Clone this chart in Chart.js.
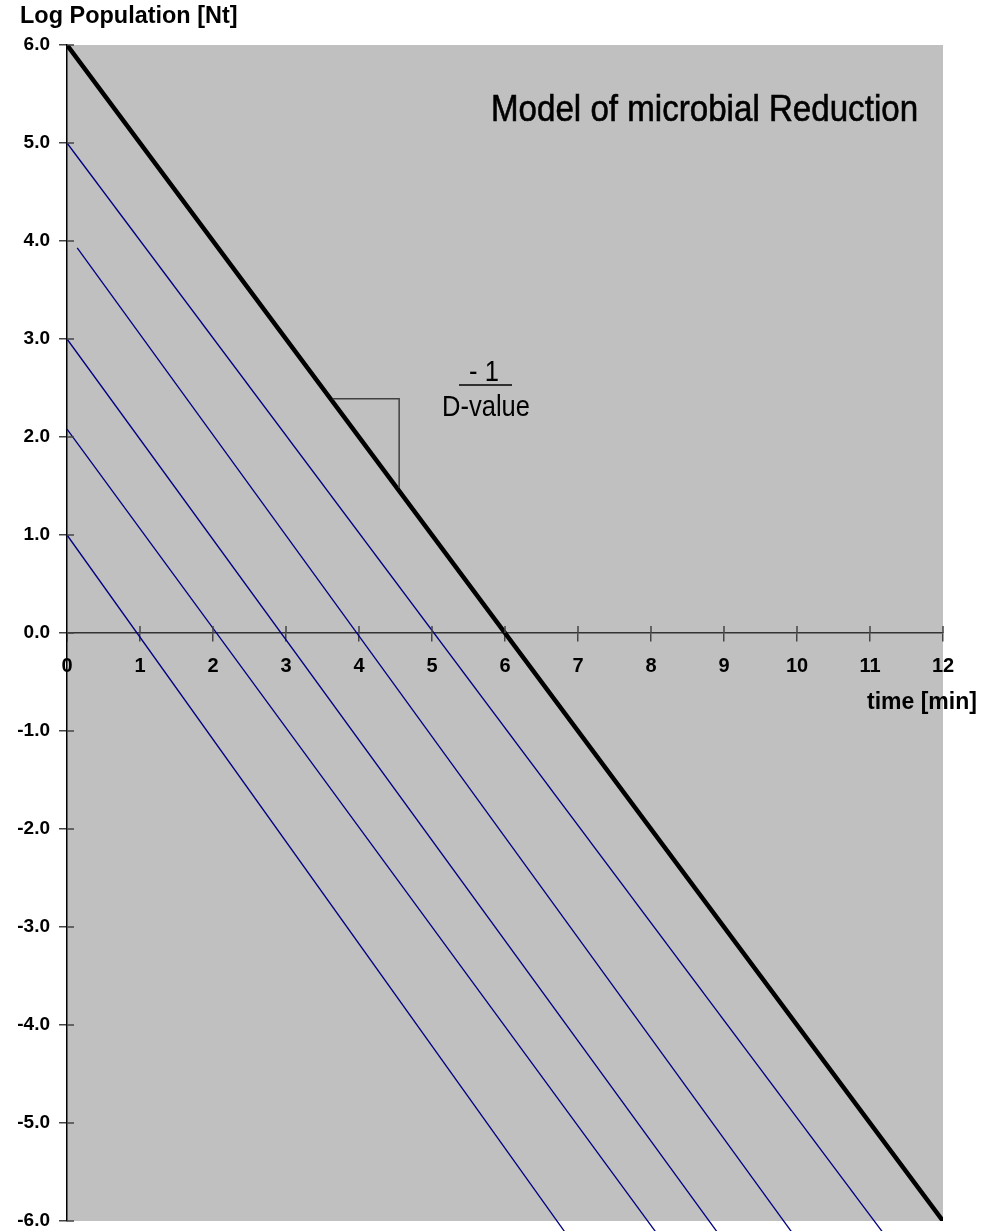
<!DOCTYPE html>
<html>
<head>
<meta charset="utf-8">
<script src="https://cdn.jsdelivr.net/npm/chart.js@4.4.1/dist/chart.umd.min.js"></script>
<style>
  html, body { margin: 0; padding: 0; background: #fff; }
  #wrap { width: 994px; height: 1231px; }
</style>
</head>
<body>
<div id="wrap"><canvas id="chart" width="994" height="1231"></canvas></div>
<script>
// survivor curve (thick black line)
const survivorTime = [0, 12];
const survivorLog = [6.0, -6.0];

// thinner reduction lines (blue), start and end points
const lineStartTime = [0, 0, 0, 0.14, 0];
const lineStartLog = [1.0, 2.08, 3.0, 3.93, 5.0];
const lineEndTime = [7.0, 8.25, 9.09, 10.11, 11.36];
const lineEndLog = [-6.3, -6.3, -6.3, -6.3, -6.3];

// slope triangle beside the curve
const slopeTime = [3.64, 4.55, 4.55];
const slopeLog = [2.39, 2.39, 1.48];

const timeMin = 0, timeMax = 12;
const logMin = -6, logMax = 6;

const FONT = '"Liberation Sans", Arial, sans-serif';

function toPoints(xs, ys) {
    return xs.map((x, i) => ({ x: x, y: ys[i] }));
}

const datasets = [];
lineStartTime.forEach((t, i) => {
    datasets.push({
        data: toPoints([t, lineEndTime[i]], [lineStartLog[i], lineEndLog[i]]),
        borderColor: '#000080',
        borderWidth: 1.3,
        clip: false
    });
});
datasets.push({
    data: toPoints(slopeTime, slopeLog),
    borderColor: '#404040',
    borderWidth: 1.5
});
datasets.push({
    data: toPoints(survivorTime, survivorLog),
    borderColor: '#000000',
    borderWidth: 4.5,
    borderCapStyle: 'round'
});

// draw text with a horizontal squeeze (and optional thickening stroke)
function squeezeText(ctx, text, x, y, font, align, sx, stroke) {
    ctx.save();
    ctx.font = font;
    ctx.fillStyle = '#000';
    ctx.textBaseline = 'alphabetic';
    ctx.textAlign = align;
    ctx.translate(x, y);
    ctx.scale(sx, 1);
    ctx.fillText(text, 0, 0);
    if (stroke) {
        ctx.strokeStyle = '#000';
        ctx.lineWidth = stroke;
        ctx.strokeText(text, 0, 0);
    }
    ctx.restore();
}

const decorPlugin = {
    id: 'decor',
    beforeDraw(chart) {
        const { ctx, chartArea } = chart;
        ctx.save();
        ctx.fillStyle = '#c0c0c0';
        ctx.fillRect(chartArea.left, chartArea.top, chartArea.right - chartArea.left, chartArea.bottom - chartArea.top);
        ctx.restore();
    },
    afterDraw(chart) {
        const { ctx, chartArea, scales } = chart;
        const xs = scales.x, ys = scales.y;
        const y0 = ys.getPixelForValue(0);

        // inner halves of the tick marks
        ctx.save();
        ctx.strokeStyle = '#444';
        ctx.lineWidth = 1.5;
        ctx.beginPath();
        for (let v = logMin; v <= logMax; v++) {
            const py = ys.getPixelForValue(v);
            ctx.moveTo(chartArea.left, py);
            ctx.lineTo(chartArea.left + 7, py);
        }
        for (let t = timeMin + 1; t <= timeMax; t++) {
            const px = xs.getPixelForValue(t);
            ctx.moveTo(px, y0);
            ctx.lineTo(px, y0 - 7);
        }
        ctx.stroke();

        // fraction line of -1 / D-value
        ctx.strokeStyle = '#000';
        ctx.lineWidth = 1.5;
        ctx.beginPath();
        ctx.moveTo(459, 385);
        ctx.lineTo(512, 385);
        ctx.stroke();
        ctx.restore();

        squeezeText(ctx, 'Log Population [Nt]', 20, 23, 'bold 23px ' + FONT, 'left', 1.02);
        squeezeText(ctx, 'time [min]', 867, 709, 'bold 23px ' + FONT, 'left', 1.0);
        squeezeText(ctx, 'Model of microbial Reduction', 491, 121, '36px ' + FONT, 'left', 0.92, 0.6);
        squeezeText(ctx, '- 1', 484, 381, '29px ' + FONT, 'center', 0.88);
        squeezeText(ctx, 'D-value', 486, 416, '29px ' + FONT, 'center', 0.88);
    }
};

new Chart(document.getElementById('chart'), {
    type: 'scatter',
    data: { datasets: datasets },
    options: {
        responsive: false,
        animation: false,
        showLine: true,
        elements: { point: { radius: 0 }, line: { tension: 0 } },
        layout: { padding: { top: 45, right: 51, bottom: 10, left: 0 } },
        plugins: { legend: { display: false }, tooltip: { enabled: false } },
        scales: {
            x: {
                type: 'linear',
                min: timeMin,
                max: timeMax,
                position: { y: 0 },
                afterFit: scale => {
                    scale.height = 0;
                    scale.paddingLeft = 0;
                    scale.paddingRight = 0;
                },
                border: { color: '#333', width: 1.5 },
                grid: { drawOnChartArea: false, drawTicks: true, tickLength: 8, color: '#444', lineWidth: 1.5 },
                ticks: {
                    stepSize: 1,
                    autoSkip: false,
                    maxRotation: 0,
                    padding: 13,
                    color: '#000',
                    font: { family: FONT, size: 20, weight: 'bold' }
                }
            },
            y: {
                type: 'linear',
                min: logMin,
                max: logMax,
                afterFit: scale => {
                    scale.width = 67;
                    scale.paddingTop = 0;
                    scale.paddingBottom = 0;
                },
                border: { color: '#000', width: 1.5 },
                grid: { drawOnChartArea: false, drawTicks: true, tickLength: 8, color: '#444', lineWidth: 1.5 },
                ticks: {
                    stepSize: 1,
                    padding: 9,
                    color: '#000',
                    font: { family: FONT, size: 19, weight: 'bold' },
                    callback: v => v.toFixed(1)
                }
            }
        }
    },
    plugins: [decorPlugin]
});
</script>
</body>
</html>
